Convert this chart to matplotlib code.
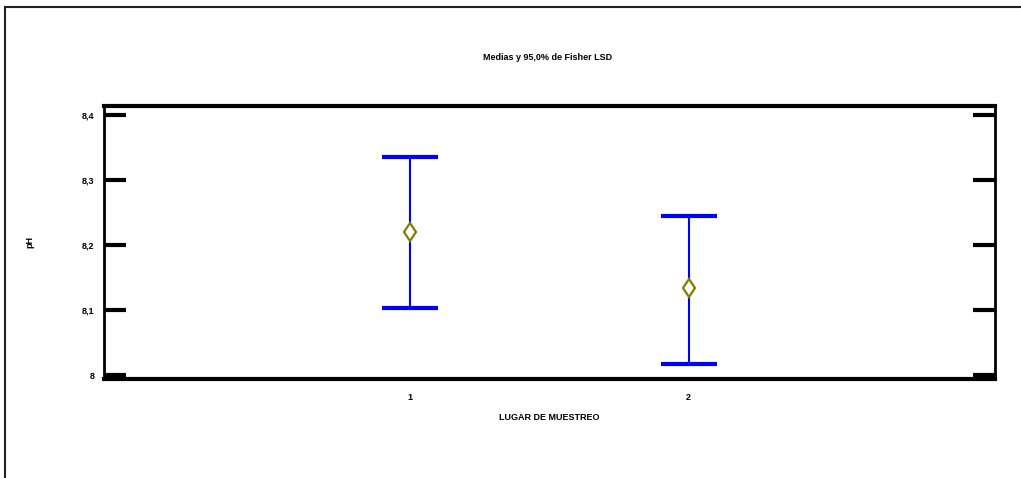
import matplotlib
matplotlib.use('Agg')
import matplotlib.pyplot as plt
from matplotlib.patches import Rectangle
from matplotlib import font_manager

# Means and 95% Fisher LSD intervals
groups = ['1', '2']
means = [8.220, 8.134]
lower = [8.103, 8.017]
upper = [8.335, 8.245]
yticks = [8.0, 8.1, 8.2, 8.3, 8.4]
ytick_labels = ['8', '8,1', '8,2', '8,3', '8,4']

names = {f.name for f in font_manager.fontManager.ttflist}
fam = 'Liberation Sans Narrow' if 'Liberation Sans Narrow' in names else 'Liberation Sans'
plt.rcParams['font.family'] = [fam, 'DejaVu Sans']
plt.rcParams['font.weight'] = 'bold'

fig = plt.figure(figsize=(10.21, 4.78), dpi=100)
W, H = 1021, 478
# outer frame (cut at right and bottom)
fig.patches.append(Rectangle((5 / W, -0.1), 1.2, 1 - 7 / H + 0.1, transform=fig.transFigure,
                             fill=False, edgecolor='#222222', linewidth=1.5))

ax = fig.add_axes([104 / W, 1 - 379 / H, (995 - 104) / W, (379 - 106) / H])
x = list(range(1, len(groups) + 1))
yerr = [[m - lo for m, lo in zip(means, lower)], [up - m for m, up in zip(means, upper)]]
ax.errorbar(x, means, yerr=yerr, fmt='none', ecolor='#0000ff', elinewidth=1.5,
            capsize=20, capthick=3)
ax.plot(x, means, linestyle='none', marker='d', markersize=9.5, markerfacecolor='white',
        markeredgecolor='#808000', markeredgewidth=1.6)

ax.set_xlim(-0.1, 3.1)
ax.set_ylim(7.994, 8.414)
ax.set_xticks(x)
ax.set_xticklabels(groups)
ax.set_yticks(yticks)
ax.set_yticklabels(ytick_labels)
ax.tick_params(axis='x', length=0, pad=10, labelsize=6.5)
ax.tick_params(axis='y', direction='in', length=16, width=3, right=True, labelsize=6.5, pad=7)
for s in ax.spines.values():
    s.set_linewidth(2)
ax.spines['top'].set_linewidth(3)
ax.spines['bottom'].set_linewidth(3)

ax.set_xlabel('LUGAR DE MUESTREO', fontsize=6.5, fontweight='bold', labelpad=8)
ax.set_ylabel('pH', fontsize=6.5, fontweight='bold', labelpad=34)
fig.text(548 / W, 1 - 57 / H, 'Medias y 95,0% de Fisher LSD', ha='center', va='center',
         fontsize=6.5, fontweight='bold')

fig.savefig('out.png', dpi=100)
